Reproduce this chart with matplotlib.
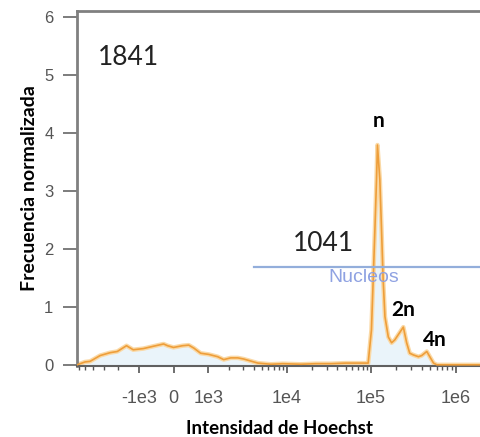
import numpy as np
import matplotlib
matplotlib.use("Agg")
import matplotlib.pyplot as plt

# ---- data ----
intensity = [-6320, -5060, -4400, -3320, -2490, -2020, -1520, -1220, -840, -530,
             -250, -150, 0, 230, 390, 530, 740, 1020, 1390, 1680, 2080, 2560,
             3040, 4520, 6490, 9000, 14800, 22000, 33800, 50000, 76900, 92400,
             101000, 106000, 111000, 116000, 119000, 127000, 133000, 139000,
             146000, 160000, 175000, 191000, 210000, 241000, 264000, 287000,
             318000, 364000, 398000, 457000, 496000, 549000, 601000, 1000000,
             2060000]
frequency = [0.0, 0.05, 0.06, 0.16, 0.21, 0.23, 0.33, 0.26, 0.28, 0.32,
             0.36, 0.33, 0.30, 0.33, 0.34, 0.29, 0.20, 0.18, 0.14, 0.09, 0.12,
             0.12, 0.10, 0.03, 0.01, 0.02, 0.01, 0.02, 0.02, 0.03, 0.03, 0.03,
             0.60, 1.47, 2.33, 3.19, 3.79, 3.19, 2.33, 1.47, 0.83, 0.48, 0.38,
             0.43, 0.52, 0.65, 0.38, 0.20, 0.17, 0.14, 0.16, 0.23, 0.14, 0.03,
             0.0, 0.0, 0.0]

major_ticks = [-1e3, 0, 1e3, 1e4, 1e5, 1e6]
major_labels = ["-1e3", "0", "1e3", "1e4", "1e5", "1e6"]
minor_ticks = [-6e3, -5e3, -4e3, -3e3, -2e3,
               2e3, 3e3, 4e3, 5e3, 6e3, 7e3, 8e3, 9e3,
               2e4, 3e4, 4e4, 5e4, 6e4, 7e4, 8e4, 9e4,
               2e5, 3e5, 4e5, 5e5, 6e5, 7e5, 8e5, 9e5, 2e6]

gate_start = 4040
gate_level = 1.68

C = 914.0
def fwd(x):
    return np.arcsinh(np.asarray(x, dtype=float) / C)
def inv(y):
    return C * np.sinh(np.asarray(y, dtype=float))

fig = plt.figure(figsize=(4.8, 4.37), dpi=100)
ax = fig.add_axes([77/480, 71/437, 405/480, 355/437])
ax.set_xscale("function", functions=(fwd, inv))
ax.set_xlim(-6320, 2.06e6)
ax.set_ylim(-0.02, 6.1)

ax.fill_between(intensity, 0, frequency, color="#EAF4FA", lw=0, zorder=1)
ax.plot(intensity, frequency, color="#FAD9A6", lw=3.2, zorder=2, solid_joinstyle="round")
ax.plot(intensity, frequency, color="#EE9E3A", lw=1.2, zorder=3, solid_joinstyle="round")

# gate
ax.plot([gate_start, 2.06e6], [gate_level, gate_level], color="#93AEDB", lw=1.6, zorder=4, clip_on=False)
ax.text(81200, gate_level - 0.02, "Nucleos", color="#8FA2E2",
        fontsize=14, family="Liberation Sans", ha="center", va="top", zorder=5)

# ticks
ax.set_xticks(major_ticks)
ax.set_xticklabels(major_labels)
ax.set_xticks(minor_ticks, minor=True)
ax.set_yticks(range(7))
ax.tick_params(axis="y", which="major", direction="out", length=10, width=1.2,
               color="#666666", labelcolor="#555555", labelsize=12, pad=7)
ax.tick_params(axis="x", which="major", direction="out", length=5, width=1.2,
               color="#555555", labelcolor="#555555", labelsize=13, pad=12)
ax.tick_params(axis="x", which="minor", direction="out", length=3, width=1, color="#555555")
for lab in ax.get_xticklabels() + ax.get_yticklabels():
    lab.set_family("Liberation Sans")

for side in ["left", "top"]:
    ax.spines[side].set_color("#808080")
    ax.spines[side].set_linewidth(2)
ax.spines["bottom"].set_color("#606060")
ax.spines["bottom"].set_linewidth(1.5)
ax.spines["right"].set_visible(False)

ax.set_ylabel("Frecuencia normalizada", fontsize=14, fontweight="bold", family="Lato", labelpad=4)
ax.set_xlabel("Intensidad de Hoechst", fontsize=13.5, fontweight="bold", family="Lato", labelpad=10)

# annotations
ax.text(-3500, 5.3, "1841", fontsize=19, family="Lato", color="#222222", ha="left", va="center")
ax.text(11900, 2.1, "1041", fontsize=19, family="Lato", color="#222222", ha="left", va="center")
ax.text(122000, 4.2, "n", fontsize=15, fontweight="bold", family="Lato", ha="center", va="center")
ax.text(240000, 0.95, "2n", fontsize=15, fontweight="bold", family="Lato", ha="center", va="center")
ax.text(569000, 0.43, "4n", fontsize=15, fontweight="bold", family="Lato", ha="center", va="center")

fig.savefig("out.png", dpi=100)
